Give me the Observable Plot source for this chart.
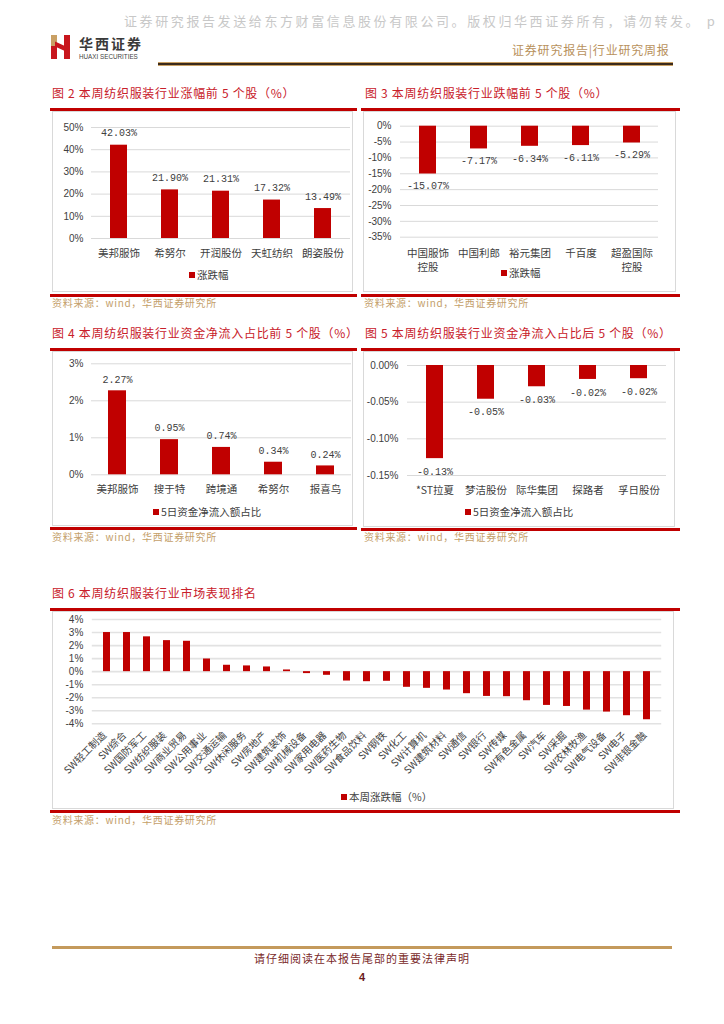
<!DOCTYPE html>
<html><head><meta charset="utf-8">
<script src="https://cdn.jsdelivr.net/npm/d3@7"></script>
<script src="https://cdn.jsdelivr.net/npm/@observablehq/plot@0.6"></script>
<style>
html,body{margin:0;padding:0;background:#fff;}
#page{position:relative;width:724px;height:1024px;overflow:hidden;font-family:"Noto Sans CJK SC","Noto Sans",sans-serif;background:#fff;}
#page svg{position:absolute;}
</style></head><body><div id="page"></div>
<script>
// ---------- data ----------
const top5Names = ["美邦服饰","希努尔","开润股份","天虹纺织","朗姿股份"];
const top5Values = [42.03,21.90,21.31,17.32,13.49];
const top5Ticks = [0,10,20,30,40,50];

const bottom5Names = ["中国服饰\n控股","中国利郎","裕元集团","千百度","超盈国际\n控股"];
const bottom5Values = [-15.07,-7.17,-6.34,-6.11,-5.29];
const bottom5Ticks = [0,-5,-10,-15,-20,-25,-30,-35];

const inflowTopNames = ["美邦服饰","搜于特","跨境通","希努尔","报喜鸟"];
const inflowTopValues = [2.27,0.95,0.74,0.34,0.24];
const inflowTopTicks = [0,1,2,3];

const inflowBottomNames = ["*ST拉夏","梦洁股份","际华集团","探路者","孚日股份"];
const inflowBottomValues = [-0.127,-0.046,-0.029,-0.019,-0.018];
const inflowBottomTicks = [0,-0.05,-0.10,-0.15];

const industryNames = ["SW轻工制造","SW综合","SW国防军工","SW纺织服装","SW商业贸易","SW公用事业","SW交通运输","SW休闲服务","SW房地产","SW建筑装饰","SW机械设备","SW家用电器","SW医药生物","SW食品饮料","SW钢铁","SW化工","SW计算机","SW建筑材料","SW通信","SW银行","SW传媒","SW有色金属","SW汽车","SW采掘","SW农林牧渔","SW电气设备","SW电子","SW非银金融"];
const industryValues = [3.0,3.0,2.67,2.38,2.33,0.97,0.49,0.44,0.36,0.13,-0.15,-0.28,-0.72,-0.77,-0.74,-1.2,-1.28,-1.41,-1.69,-1.9,-1.92,-2.23,-2.59,-2.67,-2.95,-3.1,-3.38,-3.69];
const industryTicks = [4,3,2,1,0,-1,-2,-3,-4];

// ---------- helpers ----------
const RED = "#c00000", TITLE = "#c8202a", GOLD = "#c4a06a";
const CJK = '"Noto Sans CJK SC","Noto Sans",sans-serif';
const NUM = '"Liberation Sans Narrow","Liberation Sans",Arial,sans-serif';
const MONO = '"Liberation Mono","DejaVu Sans Mono",monospace';
const page = document.getElementById("page");
function el(css, text) {
  const e = document.createElement("div");
  e.style.cssText = "position:absolute;white-space:nowrap;" + css;
  if (text != null) e.textContent = text;
  page.appendChild(e);
  return e;
}
function hline(x1, x2, y, h, color) { el(`left:${x1}px;top:${y}px;width:${x2-x1}px;height:${h}px;background:${color};`); }
function textAt(x, yc, text, css) { el(`left:${x}px;top:${yc}px;transform:translateY(-50%);line-height:1;${css}`, text); }
function legend(x, yc, text) {
  el(`left:${x}px;top:${yc-3}px;width:6px;height:6px;background:${RED};`);
  textAt(x + 8, yc, text, `font-size:10.5px;color:#404040;font-family:${CJK};`);
}
function title(x, yc, text) { textAt(x, yc, text, `font-size:12px;letter-spacing:0.7px;color:${TITLE};font-family:${CJK};`); }
function source(x, yc) { textAt(x, yc, "资料来源：wind，华西证券研究所", `font-size:10px;letter-spacing:0.7px;color:${GOLD};font-family:${CJK};`); }

function chart(box, m, o) {
  const data = o.names.map((n, i) => ({name: n, value: o.values[i]}));
  const marks = [
    Plot.ruleY(o.ticks, {stroke: o.gridColor || "#d9d9d9", strokeWidth: o.gridWidth || 1}),
    Plot.barY(data, {x: "name", y1: 0, y2: "value", fill: RED}),
    Plot.text(o.ticks, {y: d => d, text: o.tickFmt, frameAnchor: "left", textAnchor: "end", dx: o.tickDx || -8,
      fontSize: 10, fill: "#404040", fontFamily: NUM})
  ];
  if (o.labelFmt) marks.push(Plot.text(data, {x: "name", y: "value", text: d => o.labelFmt(d.value), dy: o.labelDy,
      fontSize: 10, fill: "#404040", fontFamily: MONO}));
  if (o.rotate) {
    marks.push(Plot.text(data, {x: "name", text: "name", frameAnchor: "bottom", rotate: -45, textAnchor: "end",
      dy: o.catDy, fontSize: 10, fill: "#404040", fontFamily: CJK}));
  } else {
    marks.push(Plot.text(data, {x: "name", text: "name", frameAnchor: "bottom", lineAnchor: "top", dy: o.catDy,
      lineHeight: 1.33, fontSize: 10.5, fill: "#404040", fontFamily: CJK}));
  }
  const svg = Plot.plot({
    width: box.width, height: box.height,
    marginLeft: m[0], marginRight: m[1], marginTop: m[2], marginBottom: m[3],
    x: {domain: o.names, paddingInner: o.pad, paddingOuter: o.pad / 2, axis: null},
    y: {domain: o.domain, axis: null},
    style: {background: "none", overflow: "visible", fontFamily: CJK},
    marks
  });
  svg.style.left = box.left + "px";
  svg.style.top = box.top + "px";
  page.appendChild(svg);
  el(`left:${box.left}px;top:${box.top}px;width:${box.width}px;height:${box.height}px;border:1px solid #d9d9d9;box-sizing:border-box;`);
}
const pct0 = d => `${d}%`;
const pctNeg = d => (d < 0 ? "-" : "") + Math.abs(d) + "%";

// ---------- header ----------
textAt(124, 20, "证券研究报告发送给东方财富信息股份有限公司。版权归华西证券所有，请勿转发。 p", `font-size:13px;letter-spacing:2.6px;color:#c8c8c8;font-family:${CJK};`);
// logo mark
el(`left:51px;top:35px;width:6px;height:11px;background:#c9a064;`);
el(`left:51px;top:46px;width:6px;height:13px;background:#c8161d;`);
el(`left:64px;top:35px;width:6px;height:24px;background:#c8161d;`);
el(`left:55px;top:44px;width:11px;height:5px;background:#c8161d;transform:skewY(25deg);`);
textAt(79, 42.5, "华西证券", `font-size:14px;letter-spacing:2px;font-weight:700;color:#3a3a3a;font-family:${CJK};`);
textAt(79, 56.5, "HUAXI SECURITIES", `font-size:6.3px;color:#444;font-family:${NUM};`);
textAt(512, 50, "证券研究报告|行业研究周报", `font-size:12px;letter-spacing:0.8px;color:#b8915c;font-family:${CJK};`);
hline(158, 673, 62, 1, "#c9a064");
hline(158, 673, 63, 2, "#3b2a1c");
hline(158, 673, 65, 1, "#c9a064");

// ---------- figure 2 ----------
title(52, 93, "图 2 本周纺织服装行业涨幅前 5 个股（%）");
hline(50, 357, 108, 2.5, RED);
chart({left: 52, top: 111, width: 301, height: 181}, [39, 3, 16, 54],
  {names: top5Names, values: top5Values, ticks: top5Ticks, domain: [0, 50], tickFmt: pct0,
   labelFmt: v => v.toFixed(2) + "%", labelDy: -12, catDy: 8.5, pad: 0.67});
legend(189, 274.5, "涨跌幅");
hline(50, 357, 294, 2.5, RED);
source(52, 302.5);

// ---------- figure 3 ----------
title(365, 93, "图 3 本周纺织服装行业跌幅前 5 个股（%）");
hline(361, 680, 108, 2.5, RED);
chart({left: 363, top: 111, width: 313, height: 181}, [37, 18, 14.7, 55.3],
  {names: bottom5Names, values: bottom5Values, ticks: bottom5Ticks, domain: [-35, 0], tickFmt: pctNeg, tickDx: -9,
   labelFmt: v => v.toFixed(2) + "%", labelDy: 12, catDy: 9.5, pad: 0.67});
legend(501, 273, "涨跌幅");
hline(361, 680, 294, 2.5, RED);
source(364, 302.5);

// ---------- figure 4 ----------
title(52, 333, "图 4 本周纺织服装行业资金净流入占比前 5 个股（%）");
hline(50, 357, 348, 2.5, RED);
chart({left: 52, top: 351, width: 301, height: 175}, [39, 2, 12.3, 51.7],
  {names: inflowTopNames, values: inflowTopValues, ticks: inflowTopTicks, domain: [0, 3], tickFmt: pct0,
   labelFmt: v => v.toFixed(2) + "%", labelDy: -11.5, catDy: 8.5, pad: 0.66});
legend(153, 512, "5日资金净流入额占比");
hline(50, 357, 527, 2.5, RED);
source(52, 537);

// ---------- figure 5 ----------
title(365, 333, "图 5 本周纺织服装行业资金净流入占比后 5 个股（%）");
hline(361, 680, 348, 2.5, RED);
chart({left: 363, top: 351, width: 312, height: 176}, [44, 9, 14, 52],
  {names: inflowBottomNames, values: inflowBottomValues, ticks: inflowBottomTicks, domain: [-0.15, 0],
   tickFmt: d => (d < 0 ? "-" : "") + Math.abs(d).toFixed(2) + "%", tickDx: -9,
   labelFmt: v => v.toFixed(2) + "%", labelDy: 13, catDy: 9, pad: 0.67});
legend(465, 512, "5日资金净流入额占比");
hline(361, 680, 528, 2.5, RED);
source(364, 537);

// ---------- figure 6 ----------
title(52, 593, "图 6 本周纺织服装行业市场表现排名");
hline(50, 680, 608, 2.5, RED);
chart({left: 52, top: 611, width: 622, height: 198}, [39.8, 12.8, 8, 85.7],
  {names: industryNames, values: industryValues, ticks: industryTicks, domain: [-4, 4], tickFmt: pctNeg, tickDx: -9,
   gridColor: "#e2e2e2", gridWidth: 1.6, rotate: true, catDy: 12, pad: 0.63});
legend(341, 797, "本周涨跌幅（%）");
hline(50, 680, 810, 2.5, RED);
source(52, 819.5);

// ---------- footer ----------
hline(52, 672, 946, 3, "#c49a5c");
el(`left:0;top:952px;width:724px;text-align:center;font-size:11px;letter-spacing:1px;color:#7a2a2a;line-height:12px;font-family:${CJK};`, "请仔细阅读在本报告尾部的重要法律声明");
el(`left:0;top:971px;width:724px;text-align:center;font-size:11px;font-weight:700;color:#6b1a1a;line-height:12px;font-family:${NUM};`, "4");
</script>
</body></html>
